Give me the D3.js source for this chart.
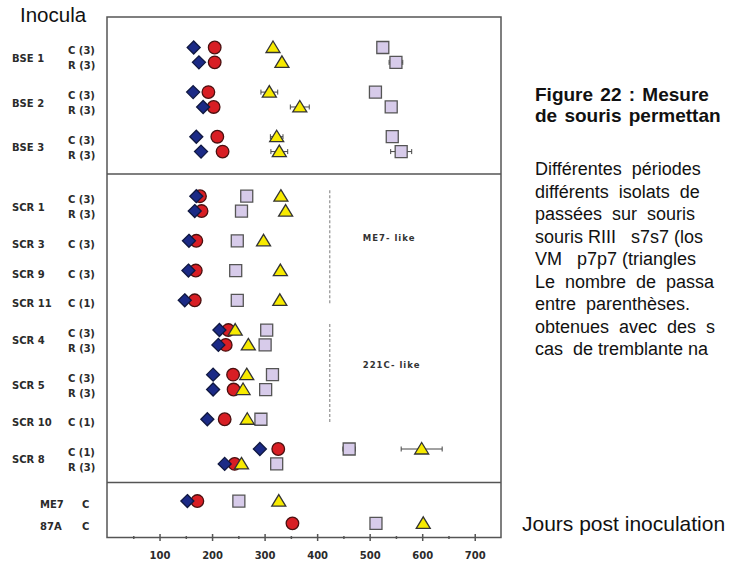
<!DOCTYPE html>
<html lang="fr">

<head>
    <meta charset="UTF-8">
    <title>Figure 22</title>
    <style>
        html,
        body {
            margin: 0;
            padding: 0;
            background: #fff;
        }

        svg {
            display: block;
        }
    </style>
</head>

<body>
    <svg id="svg" width="730" height="565"></svg>

    <script src="https://d3js.org/d3.v7.min.js"></script>
    <script>
        // one entry per row of the plot, top to bottom
        const rowGroup = ["BSE 1", "BSE 1", "BSE 2", "BSE 2", "BSE 3", "BSE 3",
            "SCR 1", "SCR 1", "SCR 3", "SCR 9", "SCR 11", "SCR 4", "SCR 4", "SCR 5", "SCR 5", "SCR 10", "SCR 8", "SCR 8",
            "ME7", "87A"];
        const rowCond = ["C (3)", "R (3)", "C (3)", "R (3)", "C (3)", "R (3)",
            "C (3)", "R (3)", "C (3)", "C (3)", "C (1)", "C (3)", "R (3)", "C (3)", "R (3)", "C (1)", "C (1)", "R (3)",
            "C", "C"];
        const rowSection = ["BSE", "BSE", "BSE", "BSE", "BSE", "BSE",
            "SCR", "SCR", "SCR", "SCR", "SCR", "SCR", "SCR", "SCR", "SCR", "SCR", "SCR", "SCR",
            "ctrl", "ctrl"];

        // incubation periods (days), one array per marker
        const diamondDays = [165, 175, 164, 183, 170, 179, 170, 167, 156, 155, 148, 214, 212, 202, 202, 191, 291, 224, 153, null];
        const circleDays = [205, 205, 193, 203, 210, 220, 177, 180, 170, 169, 167, 231, 226, 240, 241, 224, 326, 243, 172, 353];
        const triangleDays = [316, 333, 309, 367, 323, 328, 331, 340, 298, 330, 329, 244, 269, 266, 259, 267, 599, 256, 327, 602];
        const squareDays = [525, 550, 511, 541, 543, 560, 266, 256, 248, 245, 248, 304, 301, 315, 302, 293, 461, 323, 251, 512];
        const triangleErr = [0, 0, 16, 18, 12, 16, 0, 0, 0, 0, 0, 0, 0, 0, 0, 0, 39, 0, 0, 0];
        const squareErr = [0, 13, 0, 0, 0, 20, 0, 0, 0, 0, 0, 0, 0, 0, 0, 0, 12, 0, 0, 0];

        const xTicks = [100, 200, 300, 400, 500, 600, 700];
        const xMinorTicks = [50, 150, 250, 350, 450, 550, 650];

        const zoneLabels = ["ME7- like", "221C- like"];
        const zoneFirst = ["SCR 1", "SCR 4"];
        const zoneLast = ["SCR 11", "SCR 10"];
        const zoneLineDay = 424;

        // only the part of the caption that is visible in the figure
        const titleLines = ["Figure 22 : Mesure", "de souris permettan"];
        const captionLines = [
            "Différentes  périodes",
            "différents  isolats  de",
            "passées  sur  souris",
            "souris RIII   s7s7 (los",
            "VM   p7p7 (triangles",
            "Le  nombre  de  passa",
            "entre  parenthèses.",
            "obtenues  avec  des  s",
            "cas  de tremblante na"
        ];

        const svg = d3.select('#svg');
        const font = "'DejaVu Sans', Verdana, sans-serif";
        const sans = "'Liberation Sans', Arial, sans-serif";

        const plot = { left: 107, right: 501, top: 17, bottom: 537.5 };

        // build rows and their vertical slot (one slot = gap between C and R lines)
        const rows = rowGroup.map((g, i) => ({
            i, group: g, cond: rowCond[i], section: rowSection[i]
        }));
        let u = 0;
        rows.forEach((r, i) => {
            if (i > 0) {
                const p = rows[i - 1];
                if (r.section !== p.section) u += r.section === 'ctrl' ? 2.5 : 3;
                else if (r.group !== p.group) u += r.section === 'ctrl' ? 1.5 : 2;
                else u += 1;
            }
            r.u = u;
        });

        const x = d3.scaleLinear().domain([0, 750]).range([plot.left, plot.right]);
        const y = d3.scaleLinear().domain([-2.05, 32.95]).range([plot.top, plot.bottom]);

        // frame
        svg.append('rect')
            .attr('x', plot.left).attr('y', plot.top)
            .attr('width', plot.right - plot.left).attr('height', plot.bottom - plot.top)
            .attr('fill', 'none').attr('stroke', '#555').attr('stroke-width', 1.5);

        // section dividers
        rows.forEach((r, i) => {
            if (i > 0 && r.section !== rows[i - 1].section) {
                const yy = y((r.u + rows[i - 1].u) / 2);
                svg.append('line')
                    .attr('x1', plot.left).attr('x2', plot.right)
                    .attr('y1', yy).attr('y2', yy)
                    .attr('stroke', '#555').attr('stroke-width', 1.5);
            }
        });

        // dashed zone lines + labels
        zoneLabels.forEach((lab, k) => {
            const inZone = rows.filter(r => r.section === 'SCR');
            const a = inZone.findIndex(r => r.group === zoneFirst[k]);
            const b = inZone.length - 1 - inZone.slice().reverse().findIndex(r => r.group === zoneLast[k]);
            const u0 = inZone[a].u, u1 = inZone[b].u;
            svg.append('line')
                .attr('x1', x(zoneLineDay)).attr('x2', x(zoneLineDay))
                .attr('y1', y(u0 - 0.4)).attr('y2', y(u1 + 0.3))
                .attr('stroke', '#9a9a9a').attr('stroke-width', 1.3)
                .attr('stroke-dasharray', '3,2');
            svg.append('text')
                .attr('x', x(zoneLineDay) + 33)
                .attr('y', y((u0 + u1) / 2) - 10)
                .attr('dy', '0.35em')
                .style('font-family', font).style('font-weight', 'bold')
                .style('font-size', '8.5px').style('letter-spacing', '1px')
                .attr('fill', '#333')
                .text(lab);
        });

        // left labels
        const groups = d3.groups(rows, r => r.group);
        groups.forEach(([g, rs]) => {
            const ctrl = rs[0].section === 'ctrl';
            svg.append('text')
                .attr('x', ctrl ? 40 : 12)
                .attr('y', y(d3.mean(rs, r => r.u)))
                .attr('dy', '0.7em')
                .style('font-family', font).style('font-weight', 'bold').style('font-size', '10px')
                .attr('fill', '#2b2b2b')
                .text(g);
        });
        svg.selectAll('.cond')
            .data(rows)
            .join('text')
            .attr('class', 'cond')
            .attr('x', r => r.section === 'ctrl' ? 82 : 68)
            .attr('y', r => y(r.u))
            .attr('dy', '0.7em')
            .style('font-family', font).style('font-weight', 'bold').style('font-size', '10px')
            .attr('fill', '#2b2b2b')
            .text(r => r.cond);

        // bottom axis
        const xAxis = d3.axisBottom(x).tickValues(xTicks).tickSize(4).tickSizeOuter(0).tickPadding(10);
        const gx = svg.append('g')
            .attr('transform', `translate(0, ${plot.bottom})`)
            .call(xAxis);
        gx.select('.domain').remove();
        gx.selectAll('.tick line').attr('y1', -3.5).attr('y2', 3.5).attr('stroke', '#555').attr('stroke-width', 1.5);
        gx.selectAll('.tick text')
            .style('font-family', font).style('font-weight', 'bold').style('font-size', '10px')
            .attr('fill', '#2b2b2b');

        const gm = svg.append('g')
            .attr('transform', `translate(0, ${plot.bottom})`)
            .call(d3.axisBottom(x).tickValues(xMinorTicks).tickSize(1.5).tickSizeOuter(0).tickFormat(''));
        gm.select('.domain').remove();
        gm.selectAll('.tick line').attr('y1', -1.5).attr('stroke', '#555').attr('stroke-width', 1.5);

        // error bars
        const errs = [];
        rows.forEach(r => {
            if (triangleErr[r.i]) errs.push({ v: triangleDays[r.i], e: triangleErr[r.i], u: r.u });
            if (squareErr[r.i]) errs.push({ v: squareDays[r.i], e: squareErr[r.i], u: r.u });
        });
        const eg = svg.append('g').attr('stroke', '#444').attr('stroke-width', 1);
        errs.forEach(d => {
            const yy = y(d.u);
            eg.append('line').attr('x1', x(d.v - d.e)).attr('x2', x(d.v + d.e)).attr('y1', yy).attr('y2', yy);
            eg.append('line').attr('x1', x(d.v - d.e)).attr('x2', x(d.v - d.e)).attr('y1', yy - 2.5).attr('y2', yy + 2.5);
            eg.append('line').attr('x1', x(d.v + d.e)).attr('x2', x(d.v + d.e)).attr('y1', yy - 2.5).attr('y2', yy + 2.5);
        });

        // markers
        const shapes = [
            { days: circleDays, path: 'M6.3,0A6.3,6.3 0 1,1 -6.3,0A6.3,6.3 0 1,1 6.3,0Z', fill: '#d81e24', stroke: '#4a1010' },
            { days: diamondDays, path: 'M0,-6.5L6.5,0L0,6.5L-6.5,0Z', fill: '#1b2a86', stroke: '#101840' },
            { days: squareDays, path: 'M-6,-6H6V6H-6Z', fill: '#d7cbea', stroke: '#555' },
            { days: triangleDays, path: 'M0,-6.5L7,5L-7,5Z', fill: '#f7ea00', stroke: '#333' }
        ];
        shapes.forEach(s => {
            svg.append('g')
                .selectAll('path')
                .data(rows.filter(r => s.days[r.i] != null))
                .join('path')
                .attr('transform', r => `translate(${x(s.days[r.i])}, ${y(r.u)})`)
                .attr('d', s.path)
                .attr('fill', s.fill)
                .attr('stroke', s.stroke)
                .attr('stroke-width', 1.3);
        });

        // texts around the plot
        svg.append('text')
            .attr('x', 20).attr('y', 22)
            .style('font-family', sans).style('font-size', '20.5px')
            .attr('fill', '#111')
            .text('Inocula');

        svg.selectAll('.title')
            .data(titleLines)
            .join('text')
            .attr('class', 'title')
            .attr('x', 535).attr('y', (d, i) => 101 + i * 21)
            .style('font-family', sans).style('font-weight', 'bold')
            .style('font-size', '19px').style('word-spacing', '2px')
            .attr('fill', '#111')
            .text(d => d);

        svg.selectAll('.caption')
            .data(captionLines)
            .join('text')
            .attr('class', 'caption')
            .attr('x', 535).attr('y', (d, i) => 175 + i * 22.5)
            .attr('xml:space', 'preserve')
            .style('white-space', 'pre')
            .style('font-family', sans)
            .style('font-size', '18px')
            .attr('fill', '#111')
            .text(d => d);

        svg.append('text')
            .attr('x', 522).attr('y', 531)
            .style('font-family', sans).style('font-size', '21px')
            .attr('fill', '#111')
            .text('Jours post inoculation');
    </script>
</body>

</html>
